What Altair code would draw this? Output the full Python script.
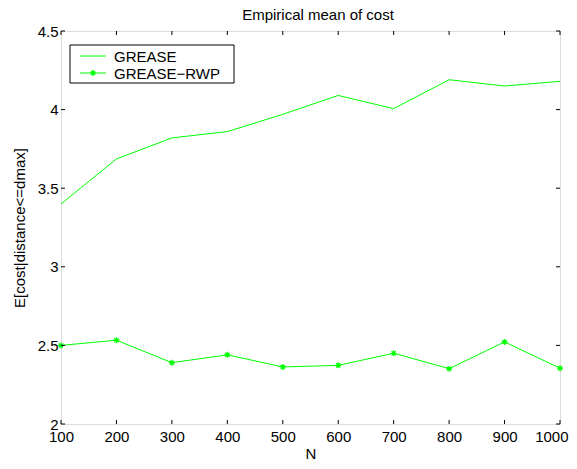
import altair as alt
import pandas as pd

N = [100, 200, 300, 400, 500, 600, 700, 800, 900, 1000]
grease = [3.40, 3.686, 3.82, 3.86, 3.97, 4.09, 4.006, 4.19, 4.15, 4.18]
grease_rwp = [2.50, 2.533, 2.39, 2.44, 2.363, 2.373, 2.45, 2.352, 2.522, 2.355]
series_names = ["GREASE", "GREASE\u2212RWP"]
title_text = ["Empirical mean of cost"]
x_ticks = [100, 200, 300, 400, 500, 600, 700, 800, 900, 1000]
y_ticks = [2, 2.5, 3, 3.5, 4, 4.5]

W, H = 499, 393
GREEN = "#00ff00"
FONT = "Liberation Sans"
FS = 15
STAR = "M-1,0L1,0M0,-1L0,1M-0.7,-0.7L0.7,0.7M-0.7,0.7L0.7,-0.7"

df1 = pd.DataFrame({"N": N, "v": grease})
df2 = pd.DataFrame({"N": N, "v": grease_rwp})
xt = pd.DataFrame({"N": x_ticks})
yt = pd.DataFrame({"v": y_ticks})

xs = alt.Scale(domain=[100, 1000], nice=False, zero=False)
ys = alt.Scale(domain=[2, 4.5], nice=False, zero=False)

x_axis = alt.Axis(values=x_ticks, ticks=False, domain=False, grid=False,
                  format="d", labelFlush=False, labelOverlap=False,
                  labelAlign={"condition": {"test": "datum.value == 1000", "value": "right"},
                              "value": "center"},
                  labelOffset={"condition": {"test": "datum.value == 1000", "value": 8},
                               "value": 0},
                  labelFont=FONT, labelFontSize=FS, labelColor="black",
                  labelPadding=5, title="N", titleFont=FONT, titleFontSize=FS,
                  titleFontWeight="normal", titleColor="black", titlePadding=2)
y_axis = alt.Axis(values=y_ticks, ticks=False, domain=False, grid=False,
                  labelFlush=False, labelOverlap=False,
                  labelExpr="datum.value % 1 == 0 ? format(datum.value, 'd') : format(datum.value, '.1f')",
                  labelFont=FONT, labelFontSize=FS, labelColor="black",
                  labelPadding=3, title="E[cost|distance<=dmax]", titleFont=FONT,
                  titleFontSize=FS, titleFontWeight="normal", titleColor="black",
                  titlePadding=10)

line1 = alt.Chart(df1).mark_line(color=GREEN, strokeWidth=1).encode(
    x=alt.X("N:Q", scale=xs, axis=x_axis),
    y=alt.Y("v:Q", scale=ys, axis=y_axis),
)
line2 = alt.Chart(df2).mark_line(color=GREEN, strokeWidth=1).encode(
    x=alt.X("N:Q", scale=xs), y=alt.Y("v:Q", scale=ys))
pts2 = alt.Chart(df2).mark_point(shape=STAR, size=36, filled=False, stroke=GREEN,
                                 strokeWidth=1.2, opacity=1).encode(
    x=alt.X("N:Q", scale=xs), y=alt.Y("v:Q", scale=ys))

tb = alt.Chart(xt).mark_rule(color="black", strokeWidth=1).encode(
    x=alt.X("N:Q", scale=xs), y=alt.value(H), y2=alt.value(H - 4))
tt = alt.Chart(xt).mark_rule(color="black", strokeWidth=1).encode(
    x=alt.X("N:Q", scale=xs), y=alt.value(0), y2=alt.value(4))
tl = alt.Chart(yt).mark_rule(color="black", strokeWidth=1).encode(
    y=alt.Y("v:Q", scale=ys), x=alt.value(0), x2=alt.value(4))
tr = alt.Chart(yt).mark_rule(color="black", strokeWidth=1).encode(
    y=alt.Y("v:Q", scale=ys), x=alt.value(W), x2=alt.value(W - 4))

one = pd.DataFrame({"a": [0]})
ttl = alt.Chart(pd.DataFrame({"t": title_text})).mark_text(
    font=FONT, fontSize=FS, align="center", baseline="alphabetic", color="black").encode(
    text="t:N", x=alt.value(257), y=alt.value(-11))

leg_box = alt.Chart(one).mark_rect(fill="white", stroke="black", strokeWidth=1).encode(
    x=alt.value(9), x2=alt.value(173), y=alt.value(14), y2=alt.value(52))
leg_l1 = alt.Chart(one).mark_rule(color=GREEN, strokeWidth=1).encode(
    x=alt.value(19), x2=alt.value(45), y=alt.value(25))
leg_l2 = alt.Chart(one).mark_rule(color=GREEN, strokeWidth=1).encode(
    x=alt.value(19), x2=alt.value(45), y=alt.value(42))
leg_p2 = alt.Chart(one).mark_point(shape=STAR, size=36, filled=False, stroke=GREEN,
                                   strokeWidth=1.2, opacity=1).encode(
    x=alt.value(32), y=alt.value(42))
leg_t1 = alt.Chart(one).mark_text(text=series_names[0], font=FONT, fontSize=FS,
                                  align="left", baseline="middle", color="black").encode(
    x=alt.value(53), y=alt.value(25.5))
leg_t2 = alt.Chart(one).mark_text(text=series_names[1], font=FONT, fontSize=FS,
                                  align="left", baseline="middle", color="black").encode(
    x=alt.value(53), y=alt.value(42.5))

chart = alt.layer(line1, line2, pts2, tb, tt, tl, tr, ttl,
                  leg_box, leg_l1, leg_l2, leg_p2, leg_t1, leg_t2).properties(
    width=W, height=H,
    autosize=alt.AutoSizeParams(type="none"),
    padding={"left": 53, "top": 23, "right": 9, "bottom": 37},
).configure_view(stroke="black", strokeWidth=1).configure(background="white")

chart.save("out.html", embed_options={"renderer": "svg", "actions": False})
